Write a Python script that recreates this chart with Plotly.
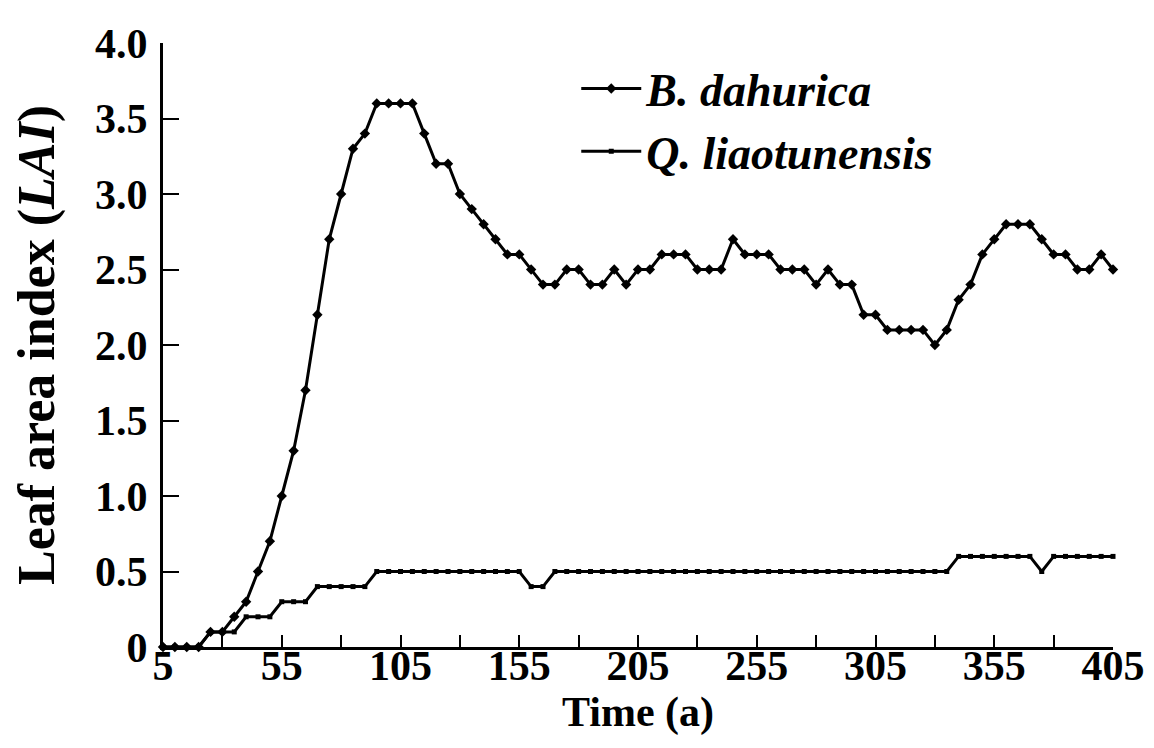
import plotly.graph_objects as go

years = list(range(5, 406, 5))

b_dahurica = [0, 0, 0, 0, 0.1, 0.1, 0.2, 0.3, 0.5, 0.7,
              1.0, 1.3, 1.7, 2.2, 2.7, 3.0, 3.3, 3.4, 3.6, 3.6,
              3.6, 3.6, 3.4, 3.2, 3.2, 3.0, 2.9, 2.8, 2.7, 2.6,
              2.6, 2.5, 2.4, 2.4, 2.5, 2.5, 2.4, 2.4, 2.5, 2.4,
              2.5, 2.5, 2.6, 2.6, 2.6, 2.5, 2.5, 2.5, 2.7, 2.6,
              2.6, 2.6, 2.5, 2.5, 2.5, 2.4, 2.5, 2.4, 2.4, 2.2,
              2.2, 2.1, 2.1, 2.1, 2.1, 2.0, 2.1, 2.3, 2.4, 2.6,
              2.7, 2.8, 2.8, 2.8, 2.7, 2.6, 2.6, 2.5, 2.5, 2.6, 2.5]

q_liaotunensis = [0, 0, 0, 0, 0.1, 0.1, 0.1, 0.2, 0.2, 0.2,
                  0.3, 0.3, 0.3, 0.4, 0.4, 0.4, 0.4, 0.4, 0.5, 0.5,
                  0.5, 0.5, 0.5, 0.5, 0.5, 0.5, 0.5, 0.5, 0.5, 0.5,
                  0.5, 0.4, 0.4, 0.5, 0.5, 0.5, 0.5, 0.5, 0.5, 0.5,
                  0.5, 0.5, 0.5, 0.5, 0.5, 0.5, 0.5, 0.5, 0.5, 0.5,
                  0.5, 0.5, 0.5, 0.5, 0.5, 0.5, 0.5, 0.5, 0.5, 0.5,
                  0.5, 0.5, 0.5, 0.5, 0.5, 0.5, 0.5, 0.6, 0.6, 0.6,
                  0.6, 0.6, 0.6, 0.6, 0.5, 0.6, 0.6, 0.6, 0.6, 0.6, 0.6]

x_tickvals = [5, 55, 105, 155, 205, 255, 305, 355, 405]
y_tickvals = [0, 0.5, 1.0, 1.5, 2.0, 2.5, 3.0, 3.5, 4.0]
y_ticktext = ["0", "0.5", "1.0", "1.5", "2.0", "2.5", "3.0", "3.5", "4.0"]

FONT = "Liberation Serif"

fig = go.Figure()
fig.add_trace(go.Scatter(
    x=years, y=b_dahurica, name="B. dahurica", mode="lines+markers",
    line=dict(color="black", width=3),
    marker=dict(symbol="diamond", size=8, color="black"),
    cliponaxis=False,
))
fig.add_trace(go.Scatter(
    x=years, y=q_liaotunensis, name="Q. liaotunensis", mode="lines+markers",
    line=dict(color="black", width=3),
    marker=dict(symbol="square", size=5, color="black"),
    cliponaxis=False,
))

fig.update_layout(
    width=1146, height=740,
    paper_bgcolor="white", plot_bgcolor="white",
    margin=dict(l=155, r=41, t=35, b=101),
    font=dict(family=FONT, size=42, color="black", weight="bold"),
    showlegend=True,
    legend=dict(
        x=0.435, y=0.985, xanchor="left", yanchor="top",
        font=dict(family=FONT, size=46, color="black", weight="bold", style="italic"),
        bgcolor="rgba(0,0,0,0)", itemwidth=60, tracegroupgap=0,
    ),
)

fig.update_xaxes(
    range=[5, 405], showgrid=False, zeroline=False,
    showline=True, linecolor="black", linewidth=3,
    tickmode="array", tickvals=x_tickvals,
    ticks="inside", ticklen=12, tickwidth=2, tickcolor="black",
    minor=dict(tick0=5, dtick=25, ticks="inside", ticklen=12, tickwidth=2, tickcolor="black"),
    tickfont=dict(family=FONT, size=42, color="black", weight="bold"),
    ticklabelstandoff=-20,
    title=dict(text="Time (a)", font=dict(family=FONT, size=42, color="black", weight="bold"), standoff=0),
    automargin=False,
)
fig.update_yaxes(
    range=[0, 4.0], showgrid=False, zeroline=False,
    showline=True, linecolor="black", linewidth=3,
    tickmode="array", tickvals=y_tickvals, ticktext=y_ticktext,
    ticks="inside", ticklen=16, tickwidth=2, tickcolor="black",
    tickfont=dict(family=FONT, size=42, color="black", weight="bold"),
    ticklabelstandoff=4,
    title=dict(text="Leaf area index (<i>LAI</i>)", font=dict(family=FONT, size=52, color="black", weight="bold"), standoff=35),
    automargin=False,
)

fig.write_html("out.html")
